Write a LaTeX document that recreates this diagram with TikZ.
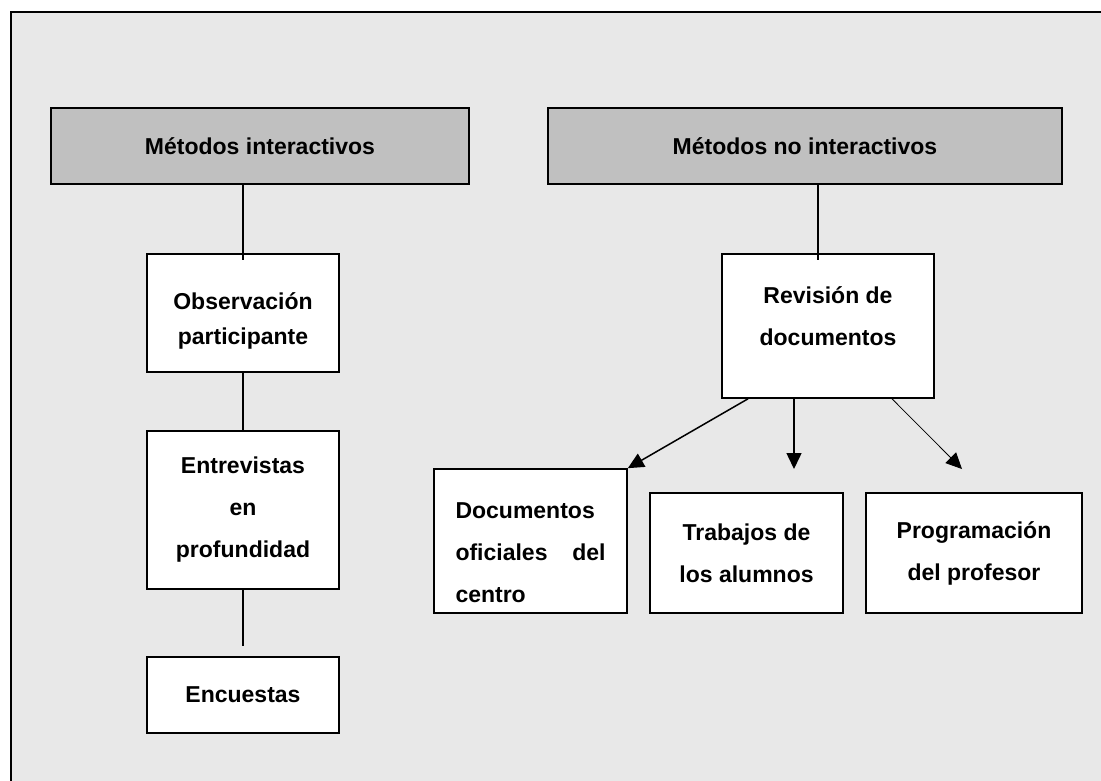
\documentclass[tikz,border=0pt]{standalone}
\usepackage{fontspec}
\setmainfont{Liberation Sans}
\usetikzlibrary{arrows.meta}
\definecolor{bgc}{HTML}{E8E8E8}
\definecolor{hdc}{HTML}{C0C0C0}
\newcommand\vmoved[2]{\raisebox{#1}[\height][\depth]{#2}}
\begin{document}
\begin{tikzpicture}[x=1pt,y=-1pt,
  box/.style={draw=black,line width=1.6pt,fill=white,inner sep=0pt,align=center,
    font=\fontsize{23}{42}\selectfont\bfseries},
  hdr/.style={box,fill=hdc},
  link/.style={line width=1.5pt},
  arr/.style={line width=1.5pt,-{Triangle[length=16pt,width=15pt]}},
  thinarr/.style={line width=0.8pt,-{Triangle[length=16pt,width=15pt]}}]
\useasboundingbox (0,0) rectangle (1101,780);
\begin{scope}
  \clip (0,0) rectangle (1101,780);
  \fill[white] (0,0) rectangle (1101,780);
  \draw[fill=bgc,line width=1.5pt] (11,12) rectangle (1130,810);
\end{scope}
% headers
\node[hdr,minimum width=418pt,minimum height=76pt] (hL) at (260,146) {Métodos interactivos};
\node[hdr,minimum width=514pt,minimum height=76pt] (hR) at (805,146) {Métodos no interactivos};
% left column
\node[box,minimum width=192pt,minimum height=118pt] (obs) at (243,313)
  {\vmoved{-7pt}{\fontsize{23}{35}\selectfont\begin{tabular}{@{}c@{}}Observación\\participante\end{tabular}}};
\node[box,minimum width=192pt,minimum height=158pt] (ent) at (243,510)
  {Entrevistas\\en\\profundidad};
\node[box,minimum width=192pt,minimum height=76pt] (enc) at (243,695) {Encuestas};
% right column
\node[box,minimum width=212pt,minimum height=144pt] (rev) at (828,326)
  {\vmoved{10pt}{\begin{tabular}{@{}c@{}}Revisión de\\documentos\end{tabular}}};
\node[box,minimum width=193pt,minimum height=144pt] (doc) at (530.5,541)
  {\vmoved{-11pt}{\begin{tabular}{@{}l@{}}Documentos\\\hbox to 150pt{oficiales\hfill del}\\centro\end{tabular}}};
\node[box,minimum width=193pt,minimum height=120pt] (tra) at (746.5,553)
  {Trabajos de\\los alumnos};
\node[box,minimum width=216pt,minimum height=120pt] (pro) at (974,553)
  {Programación\\del profesor};
% connectors
\coordinate (lt) at (243,260);
\coordinate (rt) at (818,260);
\draw[link] (lt |- hL.south) -- (lt);
\draw[link] (obs.south) -- (ent.north);
\draw[link] (ent.south) -- ([yshift=10pt]enc.north);
\draw[link] (rt |- hR.south) -- (rt);
\coordinate (a1) at (748,398);
\coordinate (a2) at (794,398);
\coordinate (a2e) at (794,469);
\coordinate (a3) at (892,398);
\coordinate (a3e) at (962,469);
\draw[arr] (a1 |- rev.south) -- (doc.north east);
\draw[arr] (a2 |- rev.south) -- (a2e);
\draw[thinarr] (a3 |- rev.south) -- (a3e);
\end{tikzpicture}
\end{document}
